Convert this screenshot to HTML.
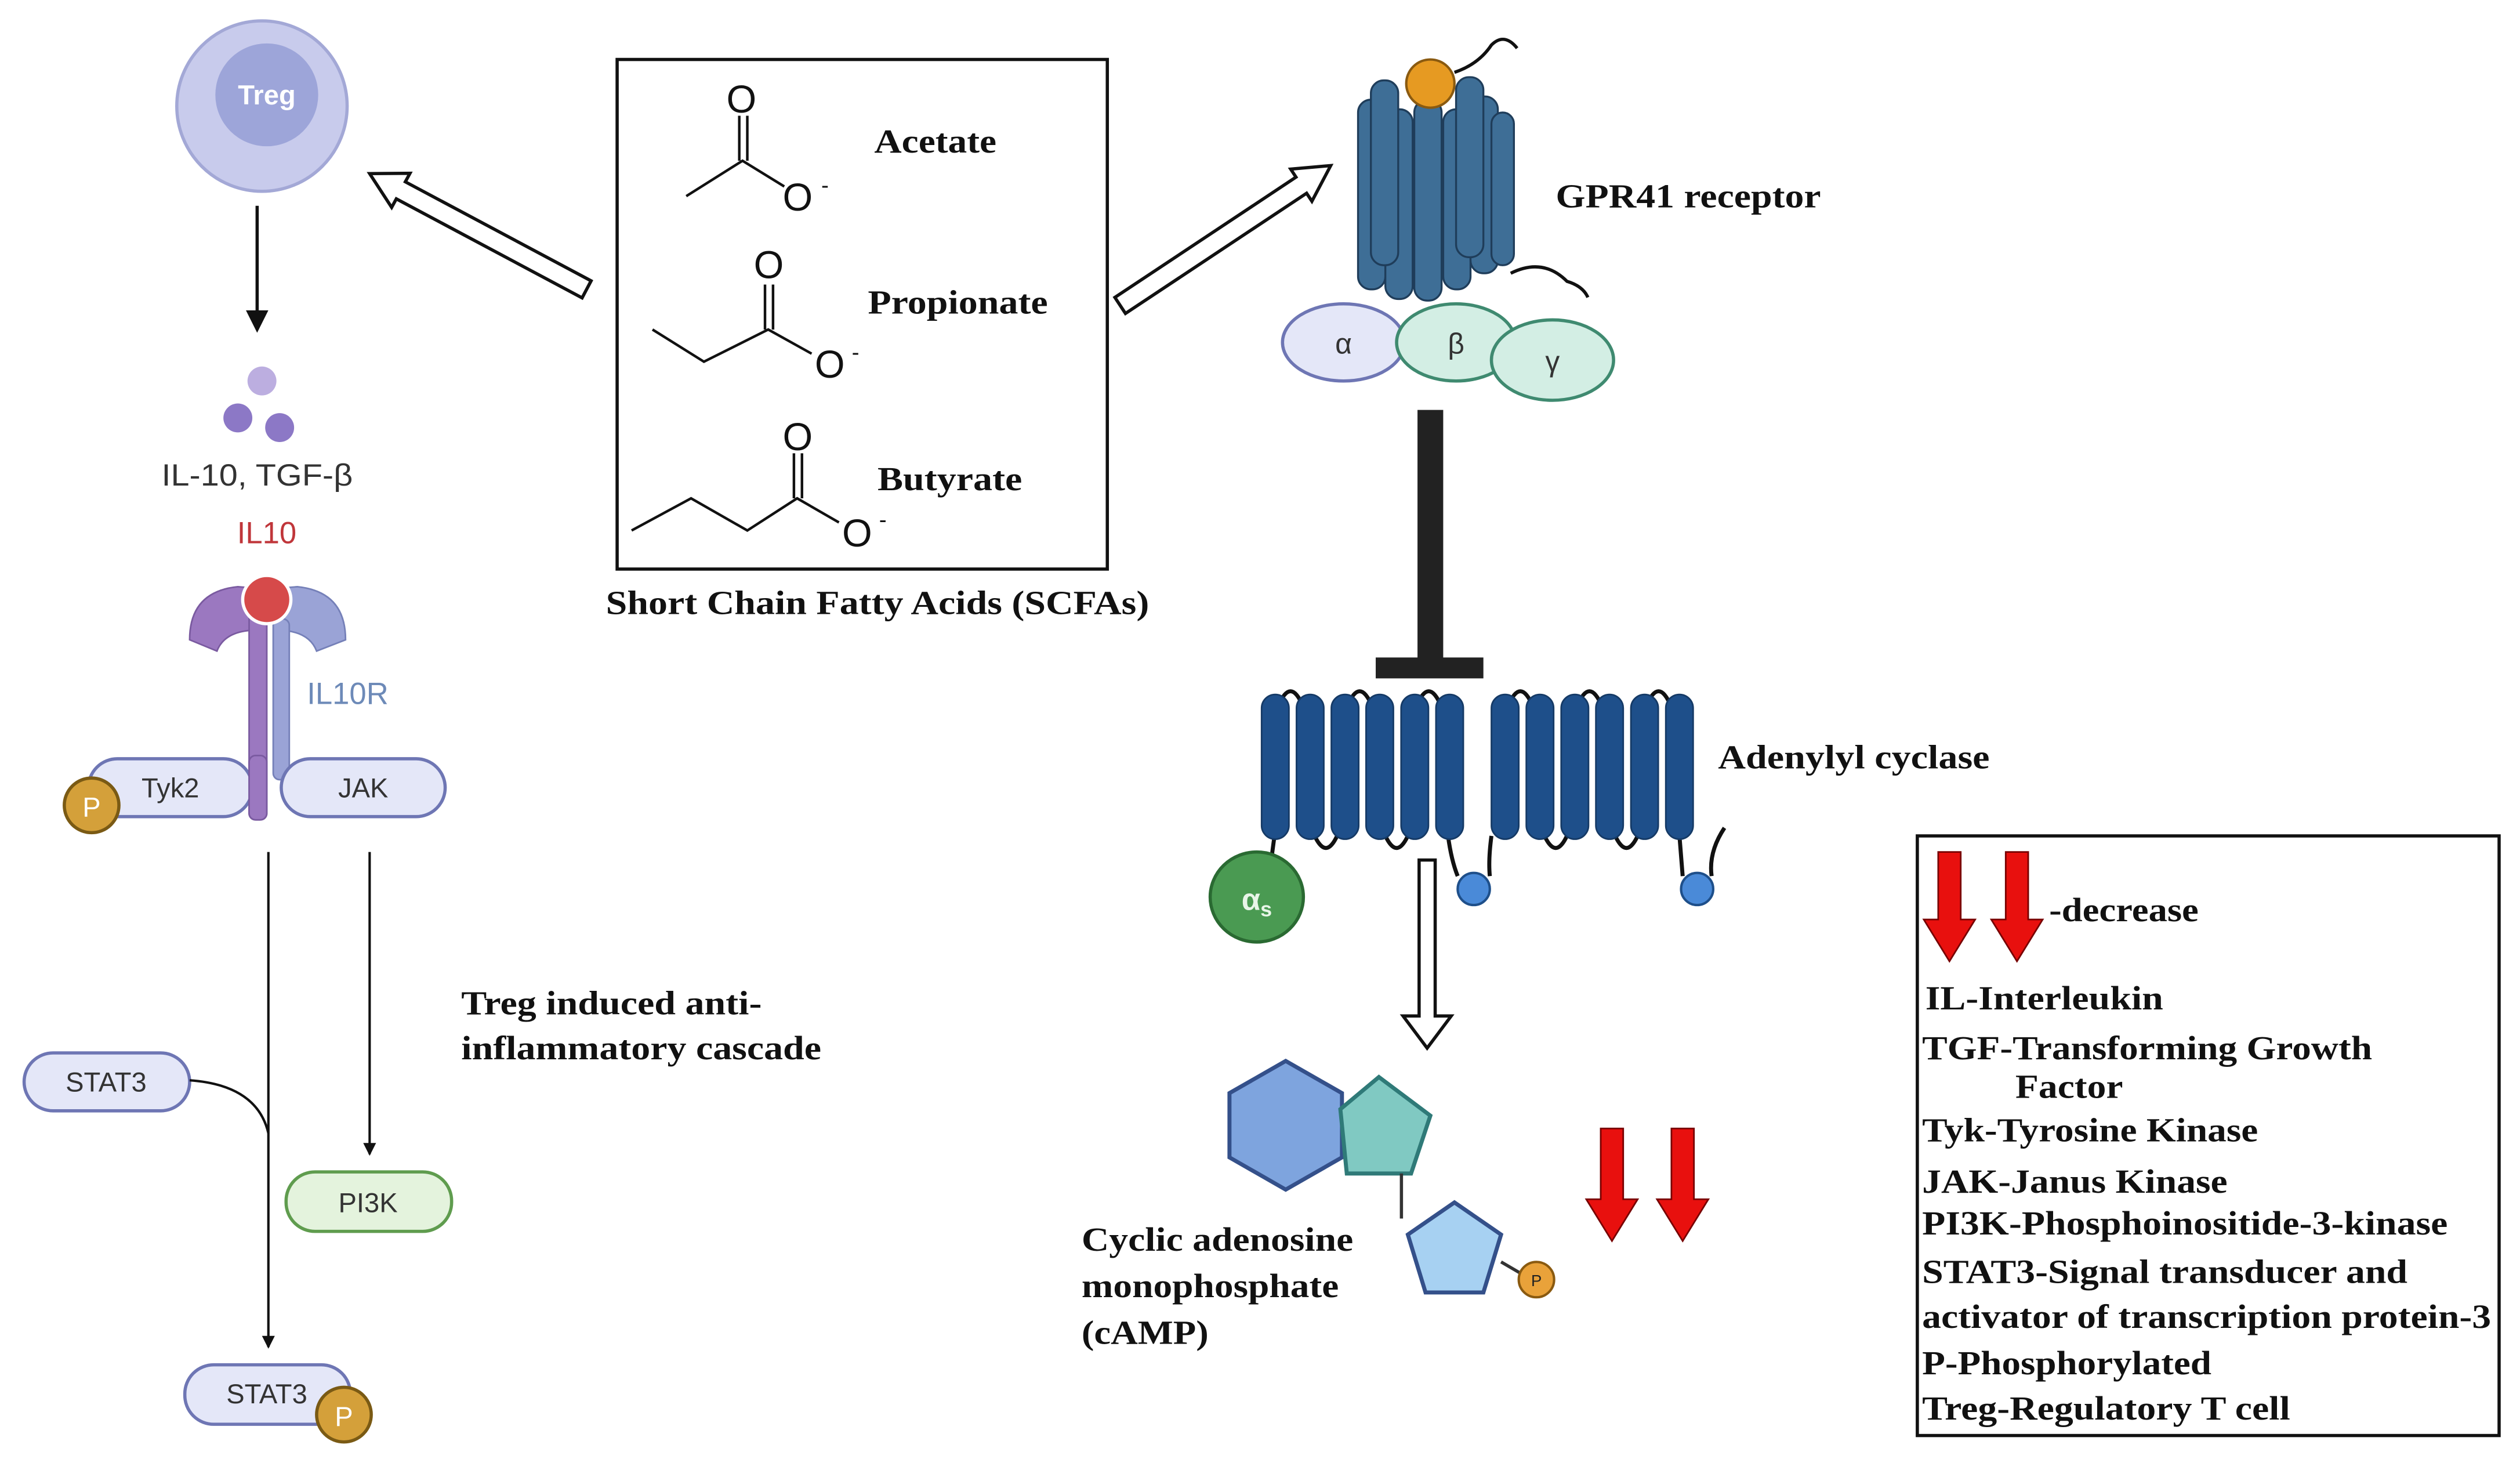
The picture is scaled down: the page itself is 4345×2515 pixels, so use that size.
<!DOCTYPE html>
<html><head><meta charset="utf-8"><style>html,body{margin:0;padding:0;background:#fff}svg{display:block}</style></head>
<body>
<svg width="4345" height="2515" viewBox="0 0 1568 907.6" xmlns="http://www.w3.org/2000/svg">
<defs>
<marker id="ah" markerWidth="8" markerHeight="8" refX="7" refY="4" orient="auto" markerUnits="userSpaceOnUse"><path d="M0,0 L8,4 L0,8 z" fill="#111"/></marker>
<marker id="ah2" markerWidth="14" markerHeight="14" refX="12" refY="7" orient="auto" markerUnits="userSpaceOnUse"><path d="M0,0 L14,7 L0,14 z" fill="#111"/></marker>
</defs>
<g font-family="Liberation Sans, sans-serif">
<circle cx="163" cy="66" r="53" fill="#c8cbec" stroke="#a3a8d6" stroke-width="2"/>
<circle cx="166" cy="59" r="32" fill="#9da5d9"/>
<text x="166" y="65" font-size="17" font-weight="bold" fill="#fff" text-anchor="middle">Treg</text>
<line x1="160" y1="128" x2="160" y2="205" stroke="#111" stroke-width="2" marker-end="url(#ah2)"/>
<circle cx="163" cy="237" r="9" fill="#bcaee0"/>
<circle cx="148" cy="260" r="9" fill="#8c78c6"/>
<circle cx="174" cy="266" r="9" fill="#8c78c6"/>
<text x="160" y="302" font-size="19" fill="#333" text-anchor="middle" textLength="119" lengthAdjust="spacingAndGlyphs">IL-10, TGF-β</text>
<text x="166" y="338" font-size="19" fill="#c0363a" text-anchor="middle">IL10</text>
<path d="M118,398 Q118,368 148,365 L160,366 L160,392 Q140,392 135,405 Z" fill="#9b78c0" stroke="#7a5aa0"/>
<rect x="155" y="380" width="11" height="130" rx="4" fill="#9b78c0" stroke="#7a5aa0"/>
<path d="M215,398 Q215,368 185,365 L172,366 L172,392 Q192,392 197,405 Z" fill="#9aa3d6" stroke="#7580b8"/>
<rect x="170" y="385" width="10" height="100" rx="4" fill="#9aa3d6" stroke="#7580b8"/>
<circle cx="166" cy="373" r="15" fill="#d64a4a" stroke="#fff" stroke-width="2"/>
<text x="191" y="438" font-size="19" fill="#6d8ab8">IL10R</text>
<rect x="55" y="472" width="102" height="36" rx="18" fill="#e4e7f8" stroke="#6e76b4" stroke-width="2"/>
<rect x="175" y="472" width="102" height="36" rx="18" fill="#e4e7f8" stroke="#6e76b4" stroke-width="2"/>
<rect x="155" y="470" width="11" height="40" rx="4" fill="#9b78c0" stroke="#7a5aa0"/>
<text x="106" y="496" font-size="17" fill="#333" text-anchor="middle">Tyk2</text>
<text x="226" y="496" font-size="17" fill="#333" text-anchor="middle">JAK</text>
<circle cx="57" cy="501" r="17" fill="#d4a03a" stroke="#7a5a14" stroke-width="2"/>
<text x="57" y="508" font-size="17" fill="#fff" text-anchor="middle">P</text>
<line x1="167" y1="530" x2="167" y2="838" stroke="#111" stroke-width="1.5" marker-end="url(#ah)"/>
<line x1="230" y1="530" x2="230" y2="718" stroke="#111" stroke-width="1.5" marker-end="url(#ah)"/>
<rect x="15" y="655" width="103" height="36" rx="18" fill="#e4e7f8" stroke="#6e76b4" stroke-width="2"/>
<text x="66" y="679" font-size="17" fill="#333" text-anchor="middle">STAT3</text>
<path d="M118,672 Q160,675 167,705" fill="none" stroke="#111" stroke-width="1.5"/>
<rect x="178" y="729" width="103" height="37" rx="18" fill="#e4f3dd" stroke="#5f9c4e" stroke-width="2"/>
<text x="229" y="754" font-size="17" fill="#333" text-anchor="middle">PI3K</text>
<rect x="115" y="849" width="103" height="37" rx="18" fill="#e4e7f8" stroke="#6e76b4" stroke-width="2"/>
<text x="166" y="873" font-size="17" fill="#333" text-anchor="middle">STAT3</text>
<circle cx="214" cy="880" r="17" fill="#d4a03a" stroke="#7a5a14" stroke-width="2"/>
<text x="214" y="887" font-size="17" fill="#fff" text-anchor="middle">P</text>
</g>
<g font-family="Liberation Serif, serif" font-weight="bold" font-size="21" fill="#111" lengthAdjust="spacingAndGlyphs">
<text x="287" y="631" textLength="187" lengthAdjust="spacingAndGlyphs">Treg induced anti-</text>
<text x="287" y="659" textLength="224" lengthAdjust="spacingAndGlyphs">inflammatory cascade</text>
<rect x="384" y="37" width="305" height="317" fill="#fff" stroke="#111" stroke-width="2"/>
<text x="544" y="95" textLength="76" lengthAdjust="spacingAndGlyphs">Acetate</text>
<text x="540" y="195" textLength="112" lengthAdjust="spacingAndGlyphs">Propionate</text>
<text x="546" y="305" textLength="90" lengthAdjust="spacingAndGlyphs">Butyrate</text>
<text x="377" y="382" textLength="338" lengthAdjust="spacingAndGlyphs">Short Chain Fatty Acids (SCFAs)</text>
<text x="968" y="129" textLength="165" lengthAdjust="spacingAndGlyphs">GPR41 receptor</text>
<text x="1069" y="478" textLength="169" lengthAdjust="spacingAndGlyphs">Adenylyl cyclase</text>
<text x="673" y="778" textLength="169" lengthAdjust="spacingAndGlyphs">Cyclic adenosine</text>
<text x="673" y="807" textLength="160" lengthAdjust="spacingAndGlyphs">monophosphate</text>
<text x="673" y="836" textLength="79" lengthAdjust="spacingAndGlyphs">(cAMP)</text>
</g>
<g stroke="#111" stroke-width="1.6" fill="none">
<path d="M427,122 L462,100 L488,116 M460,100 L460,72 M465,100 L465,72"/>
<path d="M406,205 L438,225 L478,205 L505,220 M476,205 L476,177 M481,205 L481,177"/>
<path d="M393,330 L430,310 L465,330 L496,310 L522,325 M494,310 L494,282 M499,310 L499,282"/>
</g>
<g font-family="Liberation Sans, sans-serif" font-size="24" fill="#111">
<text x="452" y="70">O</text><text x="487" y="131">O</text><text x="511" y="120" font-size="14">-</text>
<text x="469" y="173">O</text><text x="507" y="235">O</text><text x="530" y="224" font-size="14">-</text>
<text x="487" y="280">O</text><text x="524" y="340">O</text><text x="547" y="328" font-size="14">-</text>
</g>
<g fill="#fff" stroke="#111" stroke-width="2">
<polygon points="367.8,174.7 252.2,113.1 255.1,107.8 230,108 243.7,129 246.6,123.7 362.2,185.3"/>
<polygon points="700.3,195 813,120.2 816.3,125.2 828,103 803.1,105.2 806.4,110.2 693.7,185"/>
<polygon points="883,535 893,535 893,632 903,632 888,652 873,632 883,632"/>
</g>
<!-- GPR41 -->
<g fill="#3e6e96" stroke="#1f3d5a" stroke-width="1.2">
<rect x="845" y="62" width="17" height="118" rx="8"/>
<rect x="862" y="68" width="17" height="118" rx="8"/>
<rect x="880" y="62" width="17" height="125" rx="8"/>
<rect x="898" y="68" width="17" height="112" rx="8"/>
<rect x="915" y="60" width="17" height="110" rx="8"/>
<rect x="928" y="70" width="14" height="95" rx="7"/>
<rect x="853" y="50" width="17" height="115" rx="8"/>
<rect x="906" y="48" width="17" height="112" rx="8"/>
</g>
<path d="M905,45 Q920,40 928,28 Q936,20 944,30 M940,170 Q960,160 975,175 Q985,178 988,185" fill="none" stroke="#111" stroke-width="2"/>
<circle cx="890" cy="52" r="15" fill="#e69a22" stroke="#8a5a10" stroke-width="1.5"/>
<ellipse cx="836" cy="213" rx="38" ry="24" fill="#e4e7f8" stroke="#6e76b4" stroke-width="2"/>
<ellipse cx="906" cy="213" rx="37" ry="24" fill="#d3eee4" stroke="#3f8a70" stroke-width="2"/>
<ellipse cx="966" cy="224" rx="38" ry="25" fill="#d3eee4" stroke="#3f8a70" stroke-width="2"/>
<g font-family="Liberation Sans, sans-serif" font-size="18" fill="#333" text-anchor="middle">
<text x="836" y="220">α</text><text x="906" y="220">β</text><text x="966" y="231">γ</text>
</g>
<rect x="882" y="255" width="16" height="157" fill="#222"/>
<rect x="856" y="409" width="67" height="13" fill="#222"/>
<!-- adenylyl cyclase -->
<g fill="none" stroke="#111" stroke-width="2.5">
<path d="M795,440 Q803,420 811,440 M838,440 Q846,420 854,440 M881,440 Q889,420 897,440"/>
<path d="M938,440 Q946,420 954,440 M981,440 Q989,420 997,440 M1024,440 Q1032,420 1040,440"/>
<path d="M816,515 Q825,540 834,515 M860,515 Q869,540 878,515"/>
<path d="M959,515 Q968,540 977,515 M1003,515 Q1012,540 1021,515"/>
<path d="M793,520 L791,535 M901,520 Q903,535 907,545 M928,520 Q926,535 927,545 M1045,520 L1047,545 M1065,545 Q1063,530 1073,515"/>
</g>
<g fill="#1e4f8a" stroke="#153a66" stroke-width="1">
<rect x="785" y="432" width="17" height="90" rx="8.5"/>
<rect x="806.7" y="432" width="17" height="90" rx="8.5"/>
<rect x="828.4" y="432" width="17" height="90" rx="8.5"/>
<rect x="850" y="432" width="17" height="90" rx="8.5"/>
<rect x="871.8" y="432" width="17" height="90" rx="8.5"/>
<rect x="893.5" y="432" width="17" height="90" rx="8.5"/>
<rect x="928" y="432" width="17" height="90" rx="8.5"/>
<rect x="949.7" y="432" width="17" height="90" rx="8.5"/>
<rect x="971.4" y="432" width="17" height="90" rx="8.5"/>
<rect x="993" y="432" width="17" height="90" rx="8.5"/>
<rect x="1014.8" y="432" width="17" height="90" rx="8.5"/>
<rect x="1036.5" y="432" width="17" height="90" rx="8.5"/>
</g>
<circle cx="917" cy="553" r="10" fill="#4a8ad8" stroke="#1e4f8a" stroke-width="1.5"/>
<circle cx="1056" cy="553" r="10" fill="#4a8ad8" stroke="#1e4f8a" stroke-width="1.5"/>
<ellipse cx="782" cy="558" rx="29" ry="28" fill="#4a9a52" stroke="#2a6a32" stroke-width="2"/>
<text x="782" y="566" font-family="Liberation Sans, sans-serif" font-weight="bold" font-size="19" fill="#e8f5e8" text-anchor="middle">α<tspan font-size="13" dy="4">s</tspan></text>
<!-- cAMP -->
<polygon points="800,660 835,680 835,720 800,740 765,720 765,680" fill="#7ea4de" stroke="#34508a" stroke-width="2.5"/>
<polygon points="858,670 890,694 878,730 838,730 834,690" fill="#80c9c2" stroke="#2f7a78" stroke-width="2.5"/>
<line x1="872" y1="730" x2="872" y2="758" stroke="#333" stroke-width="2"/>
<polygon points="905,748 934,768 923,804 887,804 876,768" fill="#a7d1f2" stroke="#34508a" stroke-width="2.5"/>
<line x1="934" y1="785" x2="946" y2="792" stroke="#333" stroke-width="2"/>
<circle cx="956" cy="796" r="11" fill="#e9a23a" stroke="#8a5a10" stroke-width="1.5"/>
<text x="956" y="800" font-family="Liberation Sans, sans-serif" font-size="10" text-anchor="middle" fill="#222">P</text>
<g fill="#e8100e" stroke="#700" stroke-width="1">
<polygon points="996,702 1010,702 1010,746 1019,746 1003,772 987,746 996,746"/>
<polygon points="1040,702 1054,702 1054,746 1063,746 1047,772 1031,746 1040,746"/>
<polygon points="1206,530 1220,530 1220,572 1229,572 1213,598 1197,572 1206,572"/>
<polygon points="1248,530 1262,530 1262,572 1271,572 1255,598 1239,572 1248,572"/>
</g>
<rect x="1193" y="520" width="362" height="373" fill="none" stroke="#111" stroke-width="2"/>
<g font-family="Liberation Serif, serif" font-weight="bold" font-size="21" fill="#111">
<text x="1275" y="573" textLength="93" lengthAdjust="spacingAndGlyphs">-decrease</text>
<text x="1198" y="628" textLength="148" lengthAdjust="spacingAndGlyphs">IL-Interleukin</text>
<text x="1196" y="659" textLength="280" lengthAdjust="spacingAndGlyphs">TGF-Transforming Growth</text>
<text x="1254" y="683" textLength="67" lengthAdjust="spacingAndGlyphs">Factor</text>
<text x="1196" y="710" textLength="209" lengthAdjust="spacingAndGlyphs">Tyk-Tyrosine Kinase</text>
<text x="1196" y="742" textLength="190" lengthAdjust="spacingAndGlyphs">JAK-Janus Kinase</text>
<text x="1196" y="768" textLength="327" lengthAdjust="spacingAndGlyphs">PI3K-Phosphoinositide-3-kinase</text>
<text x="1196" y="798" textLength="302" lengthAdjust="spacingAndGlyphs">STAT3-Signal transducer and</text>
<text x="1196" y="826" textLength="354" lengthAdjust="spacingAndGlyphs">activator of transcription protein-3</text>
<text x="1196" y="855" textLength="180" lengthAdjust="spacingAndGlyphs">P-Phosphorylated</text>
<text x="1196" y="883" textLength="229" lengthAdjust="spacingAndGlyphs">Treg-Regulatory T cell</text>
</g>
</svg>
</body></html>
